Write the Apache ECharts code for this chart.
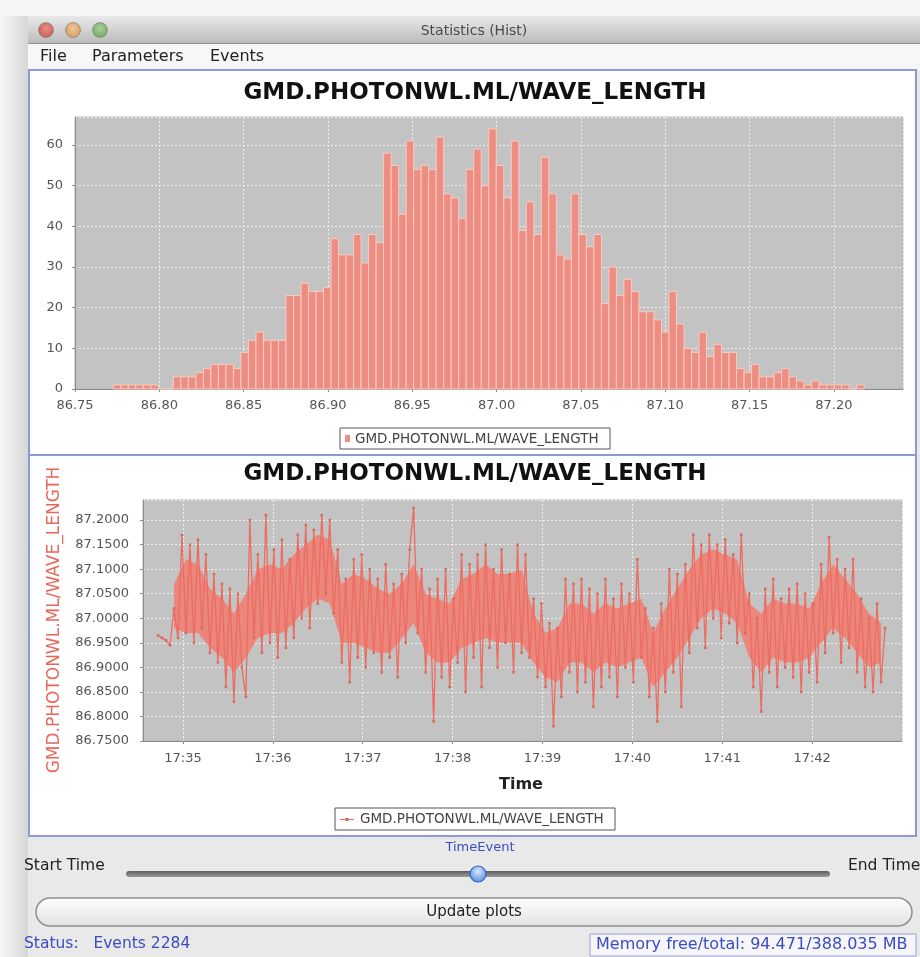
<!DOCTYPE html>
<html><head><meta charset="utf-8">
<script src="https://cdn.jsdelivr.net/npm/echarts@6/dist/echarts.min.js"></script>
<style>html,body{margin:0;padding:0;background:#e8e8e8;}#c{width:920px;height:957px;}</style>
</head><body><div id="c"></div>
<script>
// ---------- DATA ----------
const seriesName = 'GMD.PHOTONWL.ML/WAVE_LENGTH';
// histogram: 100 bins
const histBinStart = 86.7727;
const histBinWidth = 0.004453;
const histCounts = [
  1,1,1,1,1,1,0,0,3,3,
  3,4,5,6,6,6,5,9,12,14,
  12,12,12,23,23,26,24,24,25,37,
  33,33,38,31,38,36,58,55,43,61,
  54,55,54,62,48,47,42,54,59,50,
  64,55,47,61,39,46,38,57,48,33,
  32,48,38,35,38,21,30,23,27,24,
  19,19,17,14,24,16,10,9,14,8,
  11,9,9,5,4,6,3,3,4,5,
  3,2,1,2,1,1,1,1,0,1
];
const histXRange = [86.75, 87.241];
const histYRange = [0, 66.9];
// time series samples (clock of first sample, sampling step)
const tsStartClock = [17, 34, 43.3];
const tsStepSec = 2.667;
const tsValues = [
  86.965,86.96,86.955,86.945,
  87.02,86.96,87.17,86.97,87.15,86.95,87.16,86.98,87.13,86.93,
  87.09,86.91,87.07,86.86,87.06,86.83,87.05,86.90,86.84,87.20,
  86.96,87.13,86.93,87.21,86.95,87.14,86.92,87.16,86.94,87.12,
  86.96,87.17,87.00,87.19,86.98,87.18,87.03,87.21,87.05,87.20,
  87.01,87.14,86.91,87.08,86.87,87.12,86.92,87.13,86.90,87.10,
  86.93,87.08,86.89,87.11,86.92,87.07,86.88,87.09,86.95,87.14,
  87.225,86.97,87.10,86.89,87.06,86.79,87.08,86.88,87.10,86.86,
  87.04,86.91,87.13,86.85,87.11,86.92,87.13,86.86,87.15,86.94,
  87.10,86.90,87.14,86.95,87.09,86.89,87.15,86.93,87.13,86.92,
  87.04,86.88,87.03,86.86,86.99,86.78,86.98,86.84,87.08,86.89,
  87.07,86.85,87.08,86.87,87.06,86.82,87.05,86.86,87.08,86.88,
  87.04,86.84,87.07,86.90,87.05,86.87,87.12,86.92,87.02,86.84,
  86.98,86.79,87.03,86.85,87.10,86.89,87.09,86.82,87.11,86.93,
  87.17,86.98,87.15,86.94,87.17,87.00,87.15,86.96,87.16,86.99,
  87.13,86.95,87.17,86.97,87.05,86.86,87.00,86.81,87.06,86.89,
  87.08,86.86,87.04,86.90,87.06,86.88,87.07,86.85,87.05,86.89,
  87.03,86.87,87.11,86.93,87.165,86.97,87.12,86.91,87.10,86.94,
  87.12,86.89,87.04,86.86,87.00,86.85,87.03,86.87,86.98
];
// dense core of the trace (where the many samples overlap), read every 8 s
const tsCoreStartClock = [17, 34, 54];
const tsCoreStepSec = 8;
const tsCoreLow = [
  86.98,86.97,86.97,86.94,86.92,86.89,86.92,86.96,86.97,86.97,
  86.99,87.02,87.04,87.03,86.95,86.95,86.94,86.93,86.93,86.96,
  86.99,86.93,86.91,86.91,86.94,86.95,86.96,86.95,86.95,86.95,
  86.91,86.88,86.87,86.91,86.91,86.89,86.91,86.90,86.91,86.92,
  86.86,86.89,86.92,86.96,87.00,87.02,87.01,86.99,86.92,86.89,
  86.92,86.91,86.91,86.92,86.95,86.98,86.96,86.93,86.90,86.91
];
const tsCoreHigh = [
  87.07,87.12,87.11,87.06,87.04,87.01,87.05,87.10,87.11,87.10,
  87.13,87.15,87.17,87.16,87.07,87.09,87.08,87.06,87.05,87.07,
  87.11,87.05,87.04,87.03,87.08,87.09,87.11,87.09,87.09,87.10,
  87.01,86.97,86.98,87.03,87.03,87.01,87.03,87.02,87.03,87.04,
  86.97,87.02,87.06,87.10,87.13,87.14,87.13,87.12,87.03,87.01,
  87.04,87.03,87.03,87.02,87.07,87.11,87.08,87.05,87.01,86.99
];
const tsTimeRangeClock = [[17,34,33.3],[17,43,0]];
const tsYRange = [86.75, 87.241];

// ---------- CHART ----------
function clock(c){ return new Date(2009,0,1,c[0],c[1],0).getTime() + c[2]*1000; }
const histData = histCounts.map((c,i)=>[histBinStart+i*histBinWidth, histBinStart+(i+1)*histBinWidth, c]);
const t0 = clock(tsStartClock);
const tsData = tsValues.map((v,i)=>[t0 + i*tsStepSec*1000, v]);
const c0 = clock(tsCoreStartClock);
const coreLowData = tsCoreLow.map((v,i)=>[c0 + i*tsCoreStepSec*1000, v]);
const coreSpanData = tsCoreHigh.map((v,i)=>[c0 + i*tsCoreStepSec*1000, +(v - tsCoreLow[i]).toFixed(4)]);

const F = 'DejaVu Sans';
const plotBg = '#C3C3C3';
const gridLine = {show:true, lineStyle:{color:'rgba(255,255,255,0.75)', width:1, type:[2,2]}};
const blue = '#3b4cc0';

const g = [];
function rect(x,y,w,h,style,extra){ g.push(Object.assign({type:'rect', shape:{x,y,width:w,height:h}, style, z:-100}, extra||{})); }
function text(x,y,t,style,extra){ g.push(Object.assign({type:'text', x, y, style:Object.assign({text:t, fontFamily:F}, style), z:100}, extra||{})); }
function lin(c1,c2,vertical){ return {type:'linear', x:0, y:0, x2:vertical?0:1, y2:vertical?1:0, colorStops:[{offset:0,color:c1},{offset:1,color:c2}]}; }

// window chrome
rect(0,0,920,957,{fill:'#e9e9e9'});
rect(0,0,920,16,{fill:'#f5f5f5'});
rect(0,16,28,941,{fill:lin('#f7f7f7','#d6d6d6',false)});
rect(28,16,892,27,{fill:lin('#e9e9e9','#bcbcbc',true)});
g.push({type:'line', shape:{x1:28,y1:43.5,x2:920,y2:43.5}, style:{stroke:'#8f8f8f',lineWidth:1}, z:-90});
[[46,'#e89088','#c85a52'],[73,'#f0c89a','#d99a58'],[100,'#a8d09a','#6fa862']].forEach(d=>{
  g.push({type:'circle', shape:{cx:d[0],cy:30,r:7.5}, style:{fill:{type:'radial',x:0.5,y:0.4,r:0.6,colorStops:[{offset:0,color:d[1]},{offset:1,color:d[2]}]}, stroke:'rgba(120,120,120,0.6)', lineWidth:1}, z:-80});
});
text(474,31,'Statistics (Hist)',{fontSize:14,fill:'#4a4a4a',align:'center',verticalAlign:'middle'});
rect(28,44,892,26,{fill:'#f7f7f7'});
text(40,57,'File',{fontSize:16,fill:'#222',verticalAlign:'middle'});
text(92,57,'Parameters',{fontSize:16,fill:'#222',verticalAlign:'middle'});
text(210,57,'Events',{fontSize:16,fill:'#222',verticalAlign:'middle'});
// panels
rect(29,70,887,385,{fill:'#ffffff',stroke:'#8b99d8',lineWidth:2},{z:-70});
rect(29,455,887,381,{fill:'#ffffff',stroke:'#8b99d8',lineWidth:2},{z:-70});
// titles
text(475,93,seriesName,{fontSize:23,fontWeight:'bold',fill:'#111',align:'center',verticalAlign:'middle'});
text(475,474,seriesName,{fontSize:23,fontWeight:'bold',fill:'#111',align:'center',verticalAlign:'middle'});
// histogram legend
rect(340,428,270,21,{fill:'#fff',stroke:'#555',lineWidth:1},{z:50});
rect(345,435,5,7,{fill:'#EE8D81'},{z:60});
text(355,439,seriesName,{fontSize:13.5,fill:'#444',verticalAlign:'middle'});
// time-series legend
rect(335,808,280,22,{fill:'#fff',stroke:'#555',lineWidth:1},{z:50});
g.push({type:'line', shape:{x1:340,y1:819.5,x2:354,y2:819.5}, style:{stroke:'#EE6B5F',lineWidth:1}, z:60});
rect(345.5,818,3,3,{fill:'#d9675c'},{z:60});
text(360,819.5,seriesName,{fontSize:13.5,fill:'#444',verticalAlign:'middle'});
// axis titles
text(521,785,'Time',{fontSize:16,fontWeight:'bold',fill:'#222',align:'center',verticalAlign:'middle'});
text(55,620,seriesName,{fontSize:17,fill:'#E8665A',align:'center',verticalAlign:'middle'},{rotation:Math.PI/2});
// bottom controls
text(480,848,'TimeEvent',{fontSize:13,fill:blue,align:'center',verticalAlign:'middle'});
text(24,866,'Start Time',{fontSize:15.5,fill:'#222',verticalAlign:'middle'});
text(848,866,'End Time',{fontSize:15.5,fill:'#222',verticalAlign:'middle'});
rect(126,871,704,6,{fill:lin('#5e5e5e','#9a9a9a',true)},{shape:{x:126,y:871,width:704,height:6,r:3},z:-60});
g.push({type:'circle', shape:{cx:478,cy:874,r:8}, style:{fill:{type:'radial',x:0.5,y:0.35,r:0.7,colorStops:[{offset:0,color:'#d6e6ff'},{offset:1,color:'#4b86e0'}]}, stroke:'#2f64c4', lineWidth:1.2}, z:70});
rect(36,898,876,28,{fill:lin('#ffffff','#e2e2e2',true),stroke:'#8f8f8f',lineWidth:1.5},{shape:{x:36,y:898,width:876,height:28,r:14},z:-60});
text(474,912,'Update plots',{fontSize:15,fill:'#222',align:'center',verticalAlign:'middle'});
text(24,944,'Status:   Events 2284',{fontSize:15.5,fill:blue,verticalAlign:'middle'});
rect(590,934,326,22,{fill:'#f6f6fa',stroke:'#98a4d6',lineWidth:1},{z:-60});
text(596,945,'Memory free/total: 94.471/388.035 MB',{fontSize:16,fill:blue,verticalAlign:'middle'});

const axisLabelBase = {fontFamily:F, fontSize:13, color:'#555'};

const option = {
  animation:false,
  backgroundColor:'transparent',
  graphic:{elements:g},
  grid:[
    {left:75, top:117, width:828, height:272, show:true, backgroundColor:plotBg, borderColor:'#b4b4b4', borderWidth:1, containLabel:false},
    {left:143, top:500, width:759, height:241, show:true, backgroundColor:plotBg, borderColor:'#b4b4b4', borderWidth:1, containLabel:false}
  ],
  xAxis:[
    {type:'value', gridIndex:0, min:histXRange[0], max:histXRange[1], interval:0.05,
     axisLine:{show:true, onZero:false, lineStyle:{color:'#8c8c8c'}},
     axisTick:{show:true, length:3, lineStyle:{color:'#8c8c8c'}},
     axisLabel:Object.assign({margin:10, showMaxLabel:false, formatter:v=>v.toFixed(2)}, axisLabelBase),
     splitLine:gridLine},
    {type:'time', gridIndex:1, min:clock(tsTimeRangeClock[0]), max:clock(tsTimeRangeClock[1]),
     splitNumber:8, minInterval:60000, maxInterval:60000,
     axisLine:{show:true, onZero:false, lineStyle:{color:'#8c8c8c'}},
     axisTick:{show:true, length:3, lineStyle:{color:'#8c8c8c'}},
     axisLabel:Object.assign({margin:11, showMinLabel:false, showMaxLabel:false, formatter:'{HH}:{mm}'}, axisLabelBase),
     splitLine:gridLine}
  ],
  yAxis:[
    {type:'value', gridIndex:0, min:histYRange[0], max:histYRange[1], interval:10,
     axisLine:{show:true, lineStyle:{color:'#8c8c8c'}},
     axisTick:{show:true, length:3, lineStyle:{color:'#8c8c8c'}},
     axisLabel:Object.assign({margin:12, showMaxLabel:false}, axisLabelBase),
     splitLine:gridLine},
    {type:'value', gridIndex:1, min:tsYRange[0], max:tsYRange[1], interval:0.05,
     axisLine:{show:true, lineStyle:{color:'#8c8c8c'}},
     axisTick:{show:true, length:3, lineStyle:{color:'#8c8c8c'}},
     axisLabel:Object.assign({margin:14, showMaxLabel:false, formatter:v=>v.toFixed(4)}, axisLabelBase),
     splitLine:gridLine}
  ],
  series:[
    {type:'custom', name:seriesName, xAxisIndex:0, yAxisIndex:0, data:histData,
     encode:{x:[0,1], y:2},
     renderItem:function(params, api){
       const a = api.coord([api.value(0), api.value(2)]);
       const b = api.coord([api.value(1), 0]);
       return {type:'rect', shape:{x:a[0], y:a[1], width:b[0]-a[0], height:b[1]-a[1]},
               style:{fill:'#EE8D81', stroke:'#F8CBC3', lineWidth:1}};
     }},
    {type:'line', xAxisIndex:1, yAxisIndex:1, data:coreLowData, stack:'core', symbol:'none',
     lineStyle:{width:0, opacity:0}, silent:true, z:1},
    {type:'line', xAxisIndex:1, yAxisIndex:1, data:coreSpanData, stack:'core', symbol:'none',
     lineStyle:{width:0, opacity:0}, areaStyle:{color:'#EF8074', opacity:0.9}, silent:true, z:1},
    {type:'line', name:seriesName, xAxisIndex:1, yAxisIndex:1, data:tsData,
     symbol:'rect', symbolSize:2.5, showSymbol:true, z:3,
     lineStyle:{color:'#EE6B5F', width:1.3},
     itemStyle:{color:'#d9675c'}}
  ]
};
const chart = echarts.init(document.getElementById('c'));
chart.setOption(option);
</script>
</body></html>
